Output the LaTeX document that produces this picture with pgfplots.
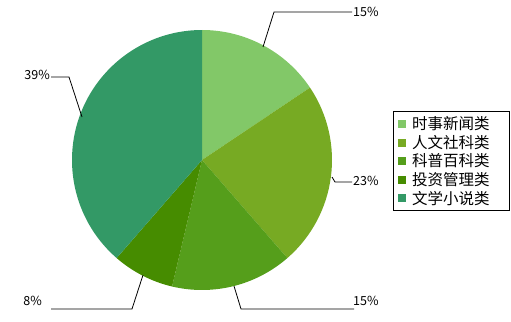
\documentclass[border=0pt]{standalone}
\usepackage{pgfplots}
\pgfplotsset{compat=1.18}
\usepackage{fontspec}
\setmainfont{Noto Sans CJK SC}
\definecolor{c1}{HTML}{82C868}
\definecolor{c2}{HTML}{77AA23}
\definecolor{c3}{HTML}{559E1B}
\definecolor{c4}{HTML}{468C00}
\definecolor{c5}{HTML}{339966}
\begin{document}
\begin{tikzpicture}
\begin{axis}[
  width=511bp, height=322bp, scale only axis,
  xmin=0, xmax=511, ymin=0, ymax=322, y dir=reverse,
  hide axis, clip=false,
  legend style={at={(axis cs:395,111)}, anchor=north west, draw=none, fill=none,
    font=\fontsize{15.5bp}{17bp}\selectfont, inner xsep=3bp, inner ysep=3.5bp, row sep=0bp,
    column sep=4bp,
    nodes={inner xsep=2bp, inner ysep=2bp},
    cells={anchor=west}},
  legend image code/.code={\fill[#1] (0bp,-4bp) rectangle (8bp,4bp);},
]
\addlegendimage{fill=c1, draw=none}
\addlegendentry{时事新闻类}
\addlegendimage{fill=c2, draw=none}
\addlegendentry{人文社科类}
\addlegendimage{fill=c3, draw=none}
\addlegendentry{科普百科类}
\addlegendimage{fill=c4, draw=none}
\addlegendentry{投资管理类}
\addlegendimage{fill=c5, draw=none}
\addlegendentry{文学小说类}
\pgfplotsextra{
  \foreach \v/\c [evaluate=\v as \e using \s-3.6*\v, remember=\e as \s (initially 90)] in {15.6/c1, 23.0/c2, 15.1/c3, 7.7/c4, 38.6/c5} {
    \fill[\c] (axis cs:202,160) -- ++(\s:130bp) arc[start angle=\s, end angle=\e, radius=130bp] -- cycle;
  }
}
\draw[line width=0.8pt] (axis cs:393,111) rectangle (axis cs:509,210);
\draw[line width=0.8pt] (axis cs:263,47) -- (axis cs:274,12) -- (axis cs:352,12);
\draw[line width=0.8pt] (axis cs:332,177) -- (axis cs:335,182) -- (axis cs:352,182);
\draw[line width=0.8pt] (axis cs:234,286) -- (axis cs:241,309) -- (axis cs:354,309);
\draw[line width=0.8pt] (axis cs:143,275) -- (axis cs:132,309) -- (axis cs:51,309);
\draw[line width=0.8pt] (axis cs:82,117) -- (axis cs:69,77) -- (axis cs:51,77);
\node[anchor=west, inner sep=0pt, font=\fontsize{12.5bp}{14bp}\selectfont] at (axis cs:353,12) {15\%};
\node[anchor=west, inner sep=0pt, font=\fontsize{12.5bp}{14bp}\selectfont] at (axis cs:353,181) {23\%};
\node[anchor=west, inner sep=0pt, font=\fontsize{12.5bp}{14bp}\selectfont] at (axis cs:353,301) {15\%};
\node[anchor=east, inner sep=0pt, font=\fontsize{12.5bp}{14bp}\selectfont] at (axis cs:42,301) {8\%};
\node[anchor=east, inner sep=0pt, font=\fontsize{12.5bp}{14bp}\selectfont] at (axis cs:50,75) {39\%};
\end{axis}
\pgfresetboundingbox
\path (current axis.south west) rectangle (current axis.north east);
\end{tikzpicture}
\end{document}
